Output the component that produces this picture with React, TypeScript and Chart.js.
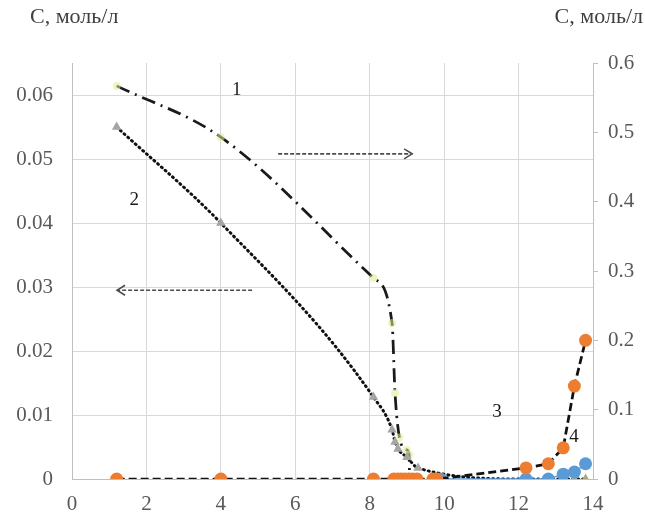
import { useEffect, useRef } from "react";
import { Chart, registerables } from "chart.js";

Chart.register(...registerables);

// ---- data ----
const curve1X = [1.2, 4.0, 8.1, 8.6, 8.68, 8.8, 8.99, 9.06, 9.07];
const curve1Y = [0.567, 0.493, 0.29, 0.225, 0.124, 0.06, 0.042, 0.035, 0.0];

const curve2X = [1.2, 4.0, 8.1, 8.6, 8.68, 8.76, 9.0, 9.3, 12.2, 12.8, 13.2, 13.5, 13.8];
const curve2Y = [0.055, 0.04, 0.0128, 0.0077, 0.0058, 0.0047, 0.0034, 0.0017, 0, 0, 0, 0, 0];

const curve3X = [1.2, 4.0, 8.1, 8.65, 8.75, 8.85, 8.95, 9.05, 9.15, 9.27, 9.7, 9.8, 12.2, 12.8, 13.2, 13.5, 13.8];
const curve3Y = [0, 0, 0, 0, 0, 0, 0, 0, 0, 0, 0, 0, 0.016, 0.022, 0.045, 0.134, 0.2];

const curve4X = [9.9, 12.2, 12.8, 13.2, 13.5, 13.8];
const curve4Y = [0, 0, 0, 0.007, 0.01, 0.022];

const xTicks = [0, 2, 4, 6, 8, 10, 12, 14];
const leftTicks = [0, 0.01, 0.02, 0.03, 0.04, 0.05, 0.06];
const leftTickLabels = ["0", "0.01", "0.02", "0.03", "0.04", "0.05", "0.06"];
const rightTicks = [0, 0.1, 0.2, 0.3, 0.4, 0.5, 0.6];
const rightTickLabels = ["0", "0.1", "0.2", "0.3", "0.4", "0.5", "0.6"];

const axisTitle = "С, моль/л";
const curveNames = ["1", "2", "3", "4"];

const pts = (xs: number[], ys: number[]) => xs.map((x, i) => ({ x, y: ys[i] }));

const FAMILY = "Liberation Serif";
const TICK_COLOR = "#595959";
const GRID = "#d9d9d9";
const AXIS = "#bfbfbf";

Chart.defaults.font.family = FAMILY;

function drawArrow(ctx: CanvasRenderingContext2D, x0: number, x1: number, y: number) {
  ctx.save();
  ctx.strokeStyle = "#4d4d4d";
  ctx.lineWidth = 1.6;
  ctx.setLineDash([4, 2]);
  ctx.beginPath();
  ctx.moveTo(x0, y);
  ctx.lineTo(x1, y);
  ctx.stroke();
  ctx.setLineDash([]);
  const dir = x1 > x0 ? 1 : -1;
  ctx.beginPath();
  ctx.moveTo(x1 - dir * 8, y - 5);
  ctx.lineTo(x1, y);
  ctx.lineTo(x1 - dir * 8, y + 5);
  ctx.stroke();
  ctx.restore();
}

const overlayPlugin = {
  id: "overlay",
  afterDraw(chart: any) {
    const { ctx, scales } = chart;
    const sx = scales.x;
    const yl = scales.y;
    const yr = scales.y2;
    ctx.save();
    ctx.font = `22px "${FAMILY}"`;
    ctx.fillStyle = "#404040";
    ctx.textBaseline = "middle";
    ctx.textAlign = "left";
    ctx.fillText(axisTitle, 30, 17);
    ctx.textAlign = "right";
    ctx.fillText(axisTitle, 643, 17);

    ctx.font = `19px "${FAMILY}"`;
    ctx.fillStyle = "#1a1a1a";
    ctx.textAlign = "center";
    const labelPos = [
      { x: 4.43, y: yr.getPixelForValue(0.561) },
      { x: 1.67, y: yl.getPixelForValue(0.0436) },
      { x: 11.42, y: yr.getPixelForValue(0.097) },
      { x: 13.49, y: yr.getPixelForValue(0.061) },
    ];
    labelPos.forEach((p, i) => {
      ctx.fillText(curveNames[i], sx.getPixelForValue(p.x), p.y);
    });

    drawArrow(ctx, sx.getPixelForValue(5.54), sx.getPixelForValue(9.14), yr.getPixelForValue(0.469));
    drawArrow(ctx, sx.getPixelForValue(4.84), sx.getPixelForValue(1.21), yl.getPixelForValue(0.0295));
    ctx.restore();
  },
};

const tickFont = { family: FAMILY, size: 21 };

export default function App() {
  const ref = useRef<HTMLCanvasElement | null>(null);

  useEffect(() => {
    if (!ref.current) return;
    const chart = new Chart(ref.current, {
      type: "line",
      data: {
        datasets: [
          {
            label: curveNames[2],
            data: pts(curve3X, curve3Y),
            yAxisID: "y2",
            borderColor: "#111111",
            borderWidth: 2.75,
            borderDash: [8, 4],
            pointRadius: 6.5,
            pointBackgroundColor: "#ED7D31",
            pointBorderWidth: 0,
            tension: 0,
            order: 1,
          },
          {
            label: curveNames[3],
            data: pts(curve4X, curve4Y),
            yAxisID: "y2",
            borderColor: "#5B9BD5",
            borderWidth: 1.5,
            pointRadius: 6.5,
            pointBackgroundColor: "#5B9BD5",
            pointBorderWidth: 0,
            tension: 0,
            order: 2,
          },
          {
            label: curveNames[1],
            data: pts(curve2X, curve2Y),
            yAxisID: "y",
            borderColor: "#111111",
            borderWidth: 3,
            borderDash: [1, 4],
            borderCapStyle: "round",
            cubicInterpolationMode: "monotone",
            pointStyle: "triangle",
            pointRadius: 5.5,
            pointBackgroundColor: (c: any) => (c.raw && c.raw.x > 13 ? "#aca77c" : "#a5a5a5"),
            pointBorderWidth: 0,
            order: 3,
          },
          {
            label: curveNames[0],
            data: pts(curve1X, curve1Y),
            yAxisID: "y2",
            borderColor: "#1a1a1a",
            borderWidth: 2.75,
            borderDash: [14, 6, 2, 6],
            cubicInterpolationMode: "monotone",
            pointRadius: 4,
            pointBackgroundColor: "rgba(225,235,150,0.55)",
            pointBorderWidth: 0,
            order: 4,
          },
        ] as any,
      },
      options: {
        animation: false,
        responsive: false,
        devicePixelRatio: 1,
        font: { family: FAMILY },
        layout: { padding: { top: 63, left: 0, right: 0, bottom: 0 } },
        plugins: { legend: { display: false }, tooltip: { enabled: false } },
        scales: {
          x: {
            type: "linear",
            min: 0,
            max: 14,
            afterBuildTicks: (s: any) => {
              s.ticks = xTicks.map((v) => ({ value: v }));
            },
            afterFit: (s: any) => {
              s.height = 40;
            },
            grid: { color: GRID, drawTicks: false },
            border: { color: AXIS },
            ticks: { padding: 13, color: TICK_COLOR, font: tickFont },
          },
          y: {
            type: "linear",
            position: "left",
            min: 0,
            max: 0.065,
            afterBuildTicks: (s: any) => {
              s.ticks = leftTicks.map((v) => ({ value: v }));
            },
            afterFit: (s: any) => {
              s.width = 72;
            },
            grid: { color: GRID, drawTicks: false },
            border: { color: AXIS },
            ticks: {
              padding: 19,
              color: TICK_COLOR,
              font: tickFont,
              callback: (_v: any, i: number) => leftTickLabels[i],
            },
          },
          y2: {
            type: "linear",
            position: "right",
            min: 0,
            max: 0.6,
            afterBuildTicks: (s: any) => {
              s.ticks = rightTicks.map((v) => ({ value: v }));
            },
            afterFit: (s: any) => {
              s.width = 52;
            },
            grid: { drawOnChartArea: false, drawTicks: true, tickLength: 5, tickColor: AXIS },
            border: { color: AXIS },
            ticks: {
              padding: 10,
              color: TICK_COLOR,
              font: tickFont,
              callback: (_v: any, i: number) => rightTickLabels[i],
            },
          },
        },
      } as any,
      plugins: [overlayPlugin],
    });
    return () => chart.destroy();
  }, []);

  return (
    <div style={{ position: "absolute", left: 0, top: 0, width: 645, height: 519, background: "#fff" }}>
      <canvas ref={ref} width={645} height={519} />
    </div>
  );
}
